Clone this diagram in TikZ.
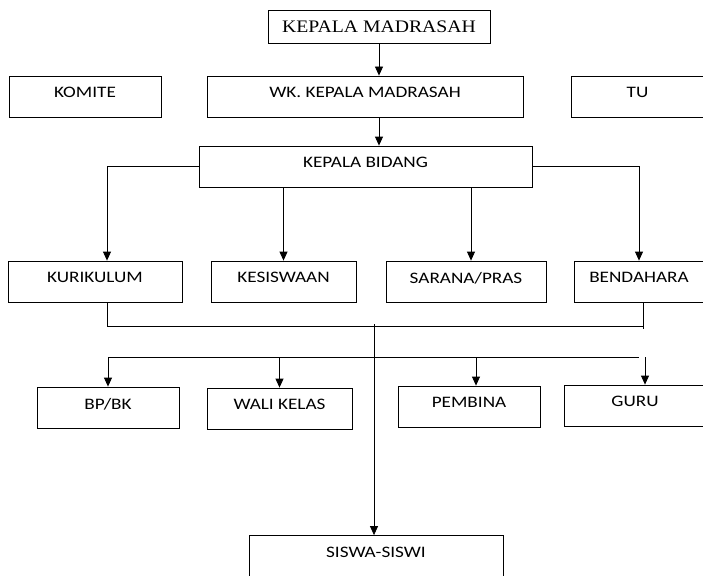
\documentclass[tikz,border=0pt]{standalone}
\usepackage{fontspec}
\setmainfont[FakeStretch=1.2]{Carlito}
\newfontfamily\kopfont[FakeStretch=1.12]{Liberation Serif}
\usetikzlibrary{arrows.meta}
\tikzset{
  unit/.style={draw, minimum height=41pt, inner sep=0pt, text depth=8pt, font=\fontsize{16}{19}\selectfont},
  arr/.style={-{Triangle[width=8pt,length=9pt]}}
}
\begin{document}
\begin{tikzpicture}[x=1pt,y=-1pt,line width=0.8pt]
    \useasboundingbox (0,0) rectangle (703,575);
    \clip (0,0) rectangle (703,575);

    \node [unit, minimum width=222pt, minimum height=33pt, text depth=0pt, font=\kopfont\fontsize{17.6}{20}\selectfont] (kepala) at (379,26.5) {KEPALA MADRASAH};
    \node [unit, minimum width=152pt] (komite) at (85,96.5) {KOMITE};
    \node [unit, minimum width=316pt] (wakil) at (365,96.5) {WK. KEPALA MADRASAH};
    \node [unit, minimum width=133pt] (tu) at (637.5,96.5) {TU};
    \node [unit, minimum width=333pt] (bidang) at (365.5,166.5) {KEPALA BIDANG};

    \node [unit, minimum width=174pt] (kurikulum) at (95,281.5) {KURIKULUM};
    \node [unit, minimum width=145pt] (kesiswaan) at (283.5,281.5) {KESISWAAN};
    \node [unit, minimum width=160pt] (sarana) at (466,281.5) {SARANA/PRAS};
    \node [unit, minimum width=130pt] (bendahara) at (639,281.5) {BENDAHARA};

    \node [unit, minimum width=142pt] (bpbk) at (108,407.5) {BP/BK};
    \node [unit, minimum width=145pt] (wali) at (279.5,408.5) {WALI KELAS};
    \node [unit, minimum width=142pt] (pembina) at (469,406.5) {PEMBINA};
    \node [unit, minimum width=142pt] (guru) at (635,405.5) {GURU};
    \node [unit, minimum width=254pt] (siswa) at (376,556) {SISWA-SISWI};

    \coordinate (hub) at (374,324);
    \coordinate (bar) at (108,357);
    \coordinate (barend) at (639,357);

    \draw [arr] (kepala.south) -- (kepala.south |- wakil.north);
    \draw [arr] (wakil.south -| kepala.south) -- (bidang.north -| kepala.south);
    \draw [arr] (bidang.west) -| ([xshift=12pt]kurikulum.north);
    \draw [arr] (bidang.east) -| (bendahara.north);
    \draw [arr] (bidang.south -| kesiswaan.north) -- (kesiswaan.north);
    \draw [arr] ([xshift=5pt]bidang.south -| sarana.north) -- ([xshift=5pt]sarana.north);

    \draw ([xshift=12pt]kurikulum.south) |- ([xshift=4pt,yshift=-24pt]bendahara.south);
    \draw ([xshift=4pt]bendahara.south) -- ++(0,27);
    \draw [arr] (hub) -- (hub |- siswa.north);

    \draw (bar) -- (barend);
    \draw [arr] (bar -| bpbk.north) -- (bpbk.north);
    \draw [arr] (bar -| wali.north) -- (wali.north);
    \draw [arr] ([xshift=7pt]bar -| pembina.north) -- ([xshift=7pt]pembina.north);
    \draw [arr] ([xshift=10pt]bar -| guru.north) -- ([xshift=10pt]guru.north);
\end{tikzpicture}
\end{document}
